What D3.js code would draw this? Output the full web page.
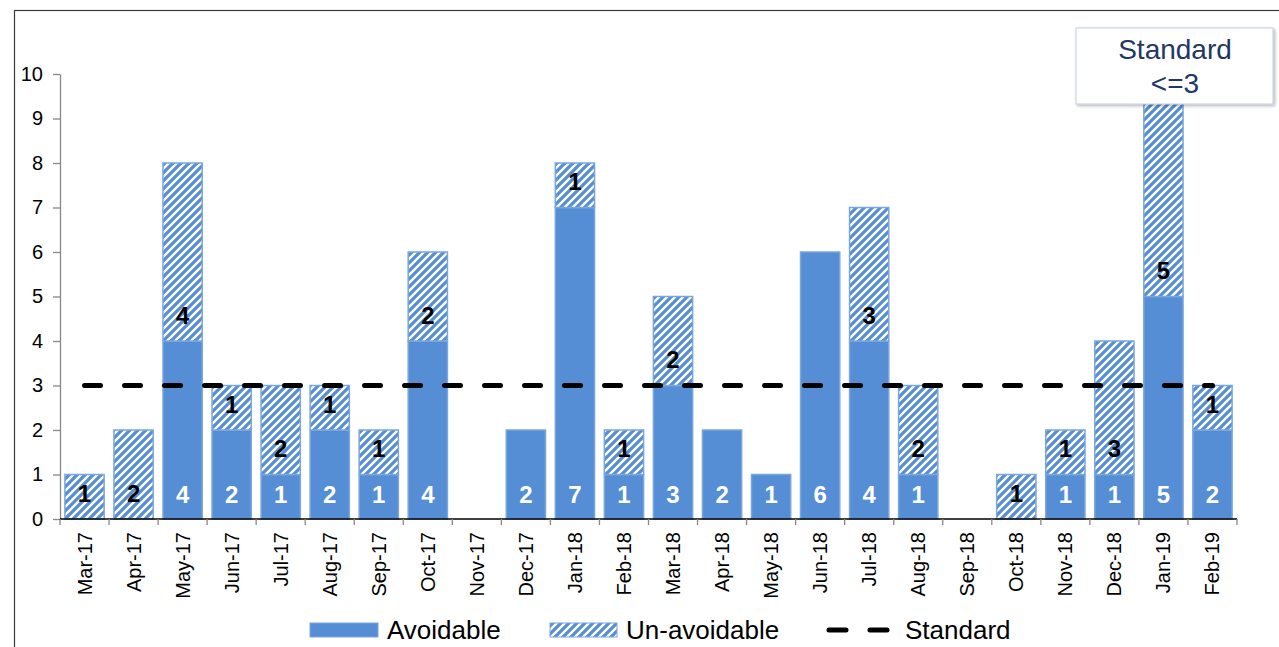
<!DOCTYPE html>
<html>
<head>
<meta charset="utf-8">
<script src="https://cdn.jsdelivr.net/npm/d3@7"></script>
<style>
  html, body { margin: 0; padding: 0; background: #fff; }
  svg { display: block; font-family: "Liberation Sans", Arial, sans-serif; }
</style>
</head>
<body>
<svg id="chart" width="1279" height="647"></svg>
<script>
// Monthly incident counts, split into avoidable and un-avoidable
const months = ["Mar-17","Apr-17","May-17","Jun-17","Jul-17","Aug-17","Sep-17","Oct-17","Nov-17","Dec-17","Jan-18","Feb-18","Mar-18","Apr-18","May-18","Jun-18","Jul-18","Aug-18","Sep-18","Oct-18","Nov-18","Dec-18","Jan-19","Feb-19"];
const avoidable   = [0,0,4,2,1,2,1,4,0,2,7,1,3,2,1,6,4,1,0,0,1,1,5,2];
const unavoidable = [1,2,4,1,2,1,1,2,0,0,1,1,2,0,0,0,3,2,0,1,1,3,5,1];
const standard = 3;
const yTicks = [0,1,2,3,4,5,6,7,8,9,10];

const solidBlue = "#558ed5";
const edgeBlue = "#7aa6de";

const svg = d3.select("#chart");

// Outer chart frame
svg.append("rect")
  .attr("x", 14.5).attr("y", 10.5)
  .attr("width", 1300).attr("height", 700)
  .attr("fill", "none").attr("stroke", "#3a3a3a").attr("stroke-width", 1.2);

const defs = svg.append("defs");
const pat = defs.append("pattern")
  .attr("id", "hatch")
  .attr("patternUnits", "userSpaceOnUse")
  .attr("width", 8).attr("height", 8);
pat.append("rect").attr("width", 8).attr("height", 8).attr("fill", "#fff");
pat.append("path")
  .attr("d", "M-2,2 L2,-2 M0,8 L8,0 M6,10 L10,6")
  .attr("stroke", solidBlue).attr("stroke-width", 3.2);

const shadow = defs.append("filter").attr("id", "shadow")
  .attr("x", "-10%").attr("y", "-20%").attr("width", "120%").attr("height", "140%");
shadow.append("feDropShadow")
  .attr("dx", 1.5).attr("dy", 1.5).attr("stdDeviation", 1.5)
  .attr("flood-color", "#000").attr("flood-opacity", 0.3);

const x = d3.scaleBand()
  .domain(months)
  .range([60, 1237])
  .paddingInner(0.2)
  .paddingOuter(0.1);
const y = d3.scaleLinear().domain([0, 10]).range([519, 74]);
const step = x.step();

// Y axis
const yAxis = svg.append("g")
  .attr("transform", "translate(60,0)")
  .call(d3.axisLeft(y).tickValues(yTicks).tickSize(7).tickSizeOuter(0).tickFormat(d3.format("d")));
yAxis.select(".domain").attr("stroke", "#888").attr("stroke-width", 1.3);
yAxis.selectAll(".tick line").attr("stroke", "#888").attr("stroke-width", 1.3);
yAxis.selectAll(".tick text")
  .attr("font-size", 20).attr("fill", "#000").attr("x", -17)
  .attr("font-family", "Liberation Sans, Arial, sans-serif");

// Bars
const rows = months.map((m, i) => ({ m, a: avoidable[i], u: unavoidable[i] }));
const g = svg.append("g");

g.selectAll("rect.avoid")
  .data(rows.filter(d => d.a > 0))
  .join("rect")
  .attr("class", "avoid")
  .attr("x", d => x(d.m)).attr("width", x.bandwidth())
  .attr("y", d => y(d.a)).attr("height", d => y(0) - y(d.a))
  .attr("fill", solidBlue).attr("stroke", edgeBlue).attr("stroke-width", 1.5);

g.selectAll("rect.unavoid")
  .data(rows.filter(d => d.u > 0))
  .join("rect")
  .attr("class", "unavoid")
  .attr("x", d => x(d.m)).attr("width", x.bandwidth())
  .attr("y", d => y(d.a + d.u)).attr("height", d => y(d.a) - y(d.a + d.u))
  .attr("fill", "url(#hatch)").attr("stroke", edgeBlue).attr("stroke-width", 1.5);

// X axis line with boundary ticks
const axisY = y(0);
svg.append("line")
  .attr("x1", 60).attr("x2", 1237).attr("y1", axisY).attr("y2", axisY)
  .attr("stroke", "#000").attr("stroke-width", 1.3);
const bounds = months.map(m => x(m) - step * 0.1).concat([1237]);
svg.selectAll("line.xtick")
  .data(bounds)
  .join("line")
  .attr("class", "xtick")
  .attr("x1", d => d).attr("x2", d => d)
  .attr("y1", axisY).attr("y2", axisY + 6)
  .attr("stroke", "#888").attr("stroke-width", 1.3);

svg.selectAll("text.xlab")
  .data(months)
  .join("text")
  .attr("class", "xlab")
  .attr("transform", d => `translate(${x(d) + x.bandwidth() / 2},532) rotate(-90)`)
  .attr("text-anchor", "end")
  .attr("dy", "0.35em")
  .attr("font-size", 20)
  .attr("fill", "#000")
  .text(d => d);

// Standard line
svg.append("line")
  .attr("x1", x(months[0]) + x.bandwidth() / 2)
  .attr("x2", x(months[months.length - 1]) + x.bandwidth() / 2)
  .attr("y1", y(standard)).attr("y2", y(standard))
  .attr("stroke", "#000").attr("stroke-width", 5)
  .attr("stroke-linecap", "round")
  .attr("stroke-dasharray", "16 24");

// Value labels, placed near the base of each segment
const labelFont = 24;
g.selectAll("text.alab")
  .data(rows.filter(d => d.a > 0))
  .join("text")
  .attr("class", "alab")
  .attr("x", d => x(d.m) + x.bandwidth() / 2)
  .attr("y", d => y(0) - 25)
  .attr("dy", "0.36em")
  .attr("text-anchor", "middle")
  .attr("font-size", labelFont).attr("font-weight", "bold")
  .attr("fill", "#fff")
  .text(d => d.a);

g.selectAll("text.ulab")
  .data(rows.filter(d => d.u > 0))
  .join("text")
  .attr("class", "ulab")
  .attr("x", d => x(d.m) + x.bandwidth() / 2)
  .attr("y", d => y(d.a) - 26)
  .attr("dy", "0.36em")
  .attr("text-anchor", "middle")
  .attr("font-size", labelFont).attr("font-weight", "bold")
  .attr("fill", "#000")
  .text(d => d.u);

// Standard annotation box
const box = svg.append("g");
box.append("rect")
  .attr("x", 1076).attr("y", 28).attr("width", 197).attr("height", 76)
  .attr("fill", "#fff").attr("stroke", "#c5cde0").attr("stroke-width", 1)
  .attr("filter", "url(#shadow)");
box.append("text")
  .attr("x", 1175).attr("y", 59)
  .attr("text-anchor", "middle").attr("font-size", 28).attr("fill", "#1f3864")
  .text("Standard");
box.append("text")
  .attr("x", 1175).attr("y", 93)
  .attr("text-anchor", "middle").attr("font-size", 28).attr("fill", "#1f3864")
  .text("<=3");

// Legend
const leg = svg.append("g");
const legY = 630;
leg.append("rect").attr("x", 310).attr("y", legY - 7).attr("width", 68).attr("height", 14)
  .attr("fill", solidBlue).attr("stroke", edgeBlue).attr("stroke-width", 1);
leg.append("text").attr("x", 387).attr("y", legY).attr("dy", "0.35em")
  .attr("font-size", 26).attr("fill", "#000").text("Avoidable");
leg.append("rect").attr("x", 550).attr("y", legY - 7).attr("width", 67).attr("height", 14)
  .attr("fill", "url(#hatch)").attr("stroke", edgeBlue).attr("stroke-width", 1);
leg.append("text").attr("x", 626).attr("y", legY).attr("dy", "0.35em")
  .attr("font-size", 26).attr("fill", "#000").text("Un-avoidable");
leg.append("line").attr("x1", 829).attr("x2", 889).attr("y1", legY).attr("y2", legY)
  .attr("stroke", "#000").attr("stroke-width", 5).attr("stroke-linecap", "round")
  .attr("stroke-dasharray", "17 24");
leg.append("text").attr("x", 905).attr("y", legY).attr("dy", "0.35em")
  .attr("font-size", 26).attr("fill", "#000").text("Standard");
</script>
</body>
</html>
